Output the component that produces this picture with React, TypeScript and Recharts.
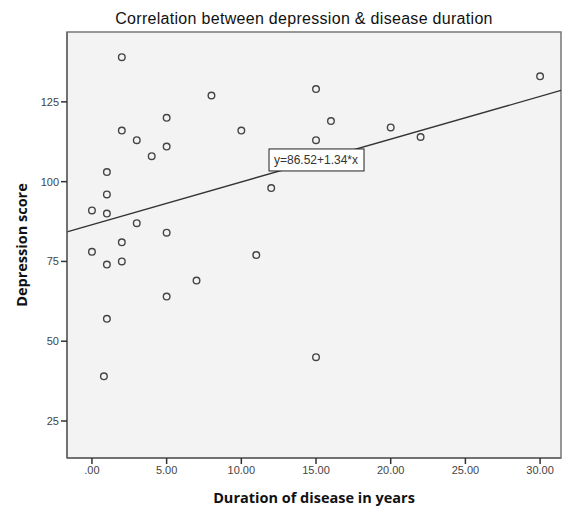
import { ScatterChart, Scatter, XAxis, YAxis, ReferenceArea, ReferenceLine, ReferenceDot } from "recharts"

const durations = [2, 2, 3, 4, 5, 5, 1, 1, 0, 1, 3, 5, 2, 0, 1, 2, 7, 5, 1, 0.8, 8, 15, 30, 10, 16, 15, 20, 22, 12, 11, 15]
const scores = [139, 116, 113, 108, 120, 111, 103, 96, 91, 90, 87, 84, 81, 78, 74, 75, 69, 64, 57, 39, 127, 129, 133, 116, 119, 113, 117, 114, 98, 77, 45]

const xTicks = [0, 5, 10, 15, 20, 25, 30]
const yTicks = [25, 50, 75, 100, 125]

const xDomain = [-1.67, 31.4]
const yDomain = [13.4, 146.9]

// fit line shown in the chart: y = 86.52 + 1.34*x
const intercept = 86.52
const slope = 1.34
const fitLabel = "y=86.52+1.34*x"
const fitLabelPos = { x: 15, y: 106.8 }

const points = durations.map((d, i) => ({ x: d, y: scores[i] }))

const font = "'Liberation Sans', Arial, sans-serif"
const boldFont = "'Open Sans', 'DejaVu Sans', sans-serif"

const fmtX = (v: number) => (v === 0 ? ".00" : v.toFixed(2))

const Ring = (props: any) => (
  <circle cx={props.cx} cy={props.cy} r={3.3} fill="none" stroke="#444" strokeWidth={1.4} />
)

const FitLabel = (props: any) => (
  <g>
    <rect x={props.cx - 47} y={props.cy - 11} width={95} height={22} fill="#fff" stroke="#222" strokeWidth={1} />
    <text x={props.cx} y={props.cy + 4} textAnchor="middle" fontSize={12} fontFamily={font} fill="#333">
      {fitLabel}
    </text>
  </g>
)

export default function App() {
  return (
    <div style={{ position: "absolute", left: 0, top: 0, width: 563, height: 508, background: "#fff" }}>
      <ScatterChart width={563} height={508} margin={{ top: 32, right: 2, bottom: 0, left: 0 }}>
        <text x={304} y={24} textAnchor="middle" fontSize={16} letterSpacing={0.3} fontFamily={font} fill="#111">
          Correlation between depression &amp; disease duration
        </text>
        <ReferenceArea
          x1={xDomain[0]}
          x2={xDomain[1]}
          y1={yDomain[0]}
          y2={yDomain[1]}
          fill="#f3f3f3"
          fillOpacity={1}
          stroke="#777"
          strokeWidth={1.5}
          ifOverflow="visible"
        />
        <XAxis
          type="number"
          dataKey="x"
          domain={xDomain}
          ticks={xTicks}
          tickFormatter={fmtX}
          allowDataOverflow
          height={50}
          axisLine={{ stroke: "#666", strokeWidth: 1.5 }}
          tickLine={{ stroke: "#333", strokeWidth: 1.5 }}
          tickSize={6}
          tick={{ fontSize: 11, fontFamily: font, fill: "#444" }}
          label={{ value: "Duration of disease in years", position: "insideBottom", offset: 5, fontSize: 14.5, fontWeight: "bold", fontFamily: boldFont, fill: "#111" }}
        />
        <YAxis
          type="number"
          dataKey="y"
          domain={yDomain}
          ticks={yTicks}
          allowDataOverflow
          width={67}
          axisLine={{ stroke: "#666", strokeWidth: 1.5 }}
          tickLine={{ stroke: "#333", strokeWidth: 1.5 }}
          tickSize={6}
          tick={{ fontSize: 11, fontFamily: font, fill: "#444" }}
          label={{ value: "Depression score", angle: -90, position: "insideLeft", offset: 22, fontSize: 14.5, fontWeight: "bold", fontFamily: boldFont, fill: "#111", style: { textAnchor: "middle" } }}
        />
        <Scatter data={points} shape={Ring} isAnimationActive={false} />
        <ReferenceLine
          segment={[
            { x: xDomain[0], y: intercept + slope * xDomain[0] },
            { x: xDomain[1], y: intercept + slope * xDomain[1] },
          ]}
          stroke="#333"
          strokeWidth={1.3}
          ifOverflow="visible"
        />
        <ReferenceDot x={fitLabelPos.x} y={fitLabelPos.y} shape={FitLabel} ifOverflow="visible" />
      </ScatterChart>
    </div>
  )
}
